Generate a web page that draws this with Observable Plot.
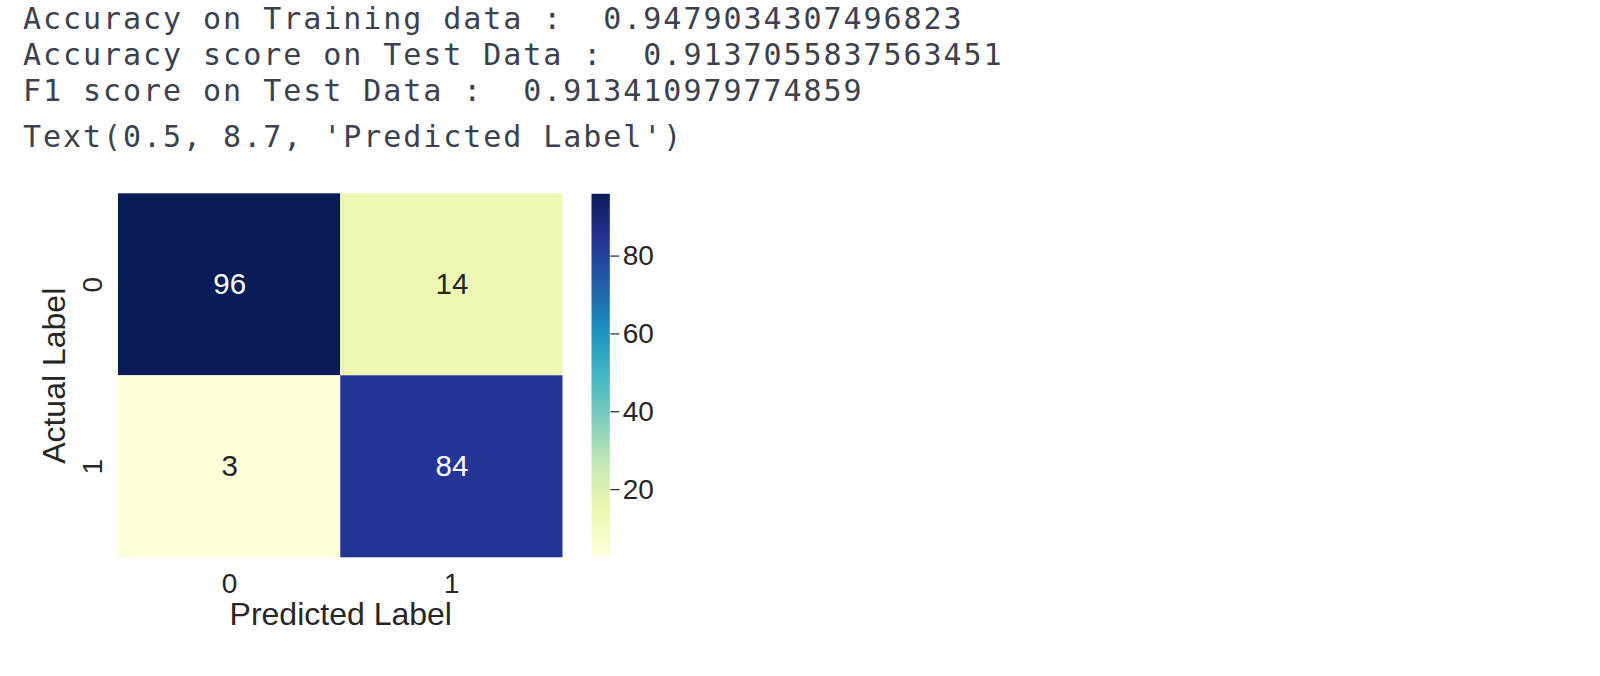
<!DOCTYPE html>
<html><head><meta charset="utf-8">
<script src="https://cdn.jsdelivr.net/npm/d3@7"></script>
<script src="https://cdn.jsdelivr.net/npm/@observablehq/plot@0.6"></script>
<style>
html,body{margin:0;padding:0;background:#fff;}
#page{position:relative;width:1600px;height:676px;overflow:hidden;}
.out{position:absolute;left:23px;font-family:"DejaVu Sans Mono",monospace;font-size:30px;line-height:30px;letter-spacing:1.95px;color:#3b414d;white-space:pre;}
.fig{position:absolute;top:170px;}
</style></head><body><div id="page"></div>
<script>
// ---- data ----
const outputLines = [
  "Accuracy on Training data :  0.9479034307496823",
  "Accuracy score on Test Data :  0.9137055837563451",
  "F1 score on Test Data :  0.913410979774859",
  "Text(0.5, 8.7, 'Predicted Label')"
];
const actualLabels = ["0", "1"];
const predictedLabels = ["0", "1"];
const counts = [[96, 14], [3, 84]];
const colorbarTicks = [20, 40, 60, 80];
const xLabel = "Predicted Label";
const yLabel = "Actual Label";

// ---- style ----
const YLGNBU = ["#ffffd9","#edf8b1","#c7e9b4","#7fcdbb","#41b6c4","#1d91c0","#225ea8","#253494","#081d58"];
const lineTops = [4.1, 39.6, 75.6, 121.6];
const page = document.getElementById("page");
outputLines.forEach((t, i) => {
  const d = document.createElement("div");
  d.className = "out";
  d.style.top = lineTops[i] + "px";
  d.textContent = t;
  page.appendChild(d);
});

const cells = actualLabels.flatMap((a, i) => predictedLabels.map((p, j) => ({actual: a, pred: p, count: counts[i][j]})));
const vmin = d3.min(cells, d => d.count), vmax = d3.max(cells, d => d.count);
const colorOpts = {type: "linear", domain: [vmin, vmax], interpolate: d3.piecewise(d3.interpolateRgb, YLGNBU)};
const baseStyle = {fontFamily: "'Liberation Sans', Arial, sans-serif", fontSize: "28px", color: "#262626", background: "transparent", overflow: "visible"};
const mid = (vmin + vmax) / 2;

const heat = Plot.plot({
  width: 600, height: 470,
  marginLeft: 118, marginRight: 37.5, marginTop: 23.3, marginBottom: 82.7,
  style: baseStyle,
  x: {type: "band", domain: predictedLabels, padding: 0, round: false, axis: null},
  y: {type: "band", domain: actualLabels, padding: 0, round: false, axis: null},
  color: colorOpts,
  marks: [
    Plot.cell(cells, {x: "pred", y: "actual", fill: "count", inset: 0}),
    Plot.text(cells, {x: "pred", y: "actual", text: d => String(d.count), filter: d => d.count >= mid, fill: "white", fontSize: 29.5}),
    Plot.text(cells, {x: "pred", y: "actual", text: d => String(d.count), filter: d => d.count < mid, fill: "#262626", fontSize: 29.5}),
    Plot.text(predictedLabels, {x: d => d, text: d => d, frameAnchor: "bottom", lineAnchor: "top", dy: 15, fontSize: 28}),
    Plot.text(actualLabels, {y: d => d, text: d => d, frameAnchor: "left", rotate: -90, lineAnchor: "bottom", textAnchor: "middle", dx: -17, fontSize: 28}),
    Plot.text([xLabel], {text: d => d, frameAnchor: "bottom", lineAnchor: "bottom", dy: 67, fontSize: 32}),
    Plot.text([yLabel], {text: d => d, frameAnchor: "left", rotate: -90, lineAnchor: "bottom", textAnchor: "middle", dx: -54, fontSize: 32})
  ]
});
heat.classList.add("fig");
heat.style.left = "0px";
page.appendChild(heat);

const cbar = Plot.plot({
  width: 140, height: 470,
  marginLeft: 30, marginRight: 91.7, marginTop: 23.3, marginBottom: 84.7,
  style: baseStyle,
  x: {domain: [0, 1], axis: null},
  y: {domain: [vmin, vmax], axis: null},
  color: colorOpts,
  marks: [
    Plot.raster({x1: 0, x2: 1, y1: vmin, y2: vmax, fill: (x, y) => y, pixelSize: 1}),
    Plot.axisY(colorbarTicks, {anchor: "right", tickSize: 9, tickPadding: 4, fontSize: 28, label: null, strokeWidth: 1.2})
  ]
});
cbar.classList.add("fig");
cbar.style.left = "561px";
page.appendChild(cbar);
</script>
</body></html>
